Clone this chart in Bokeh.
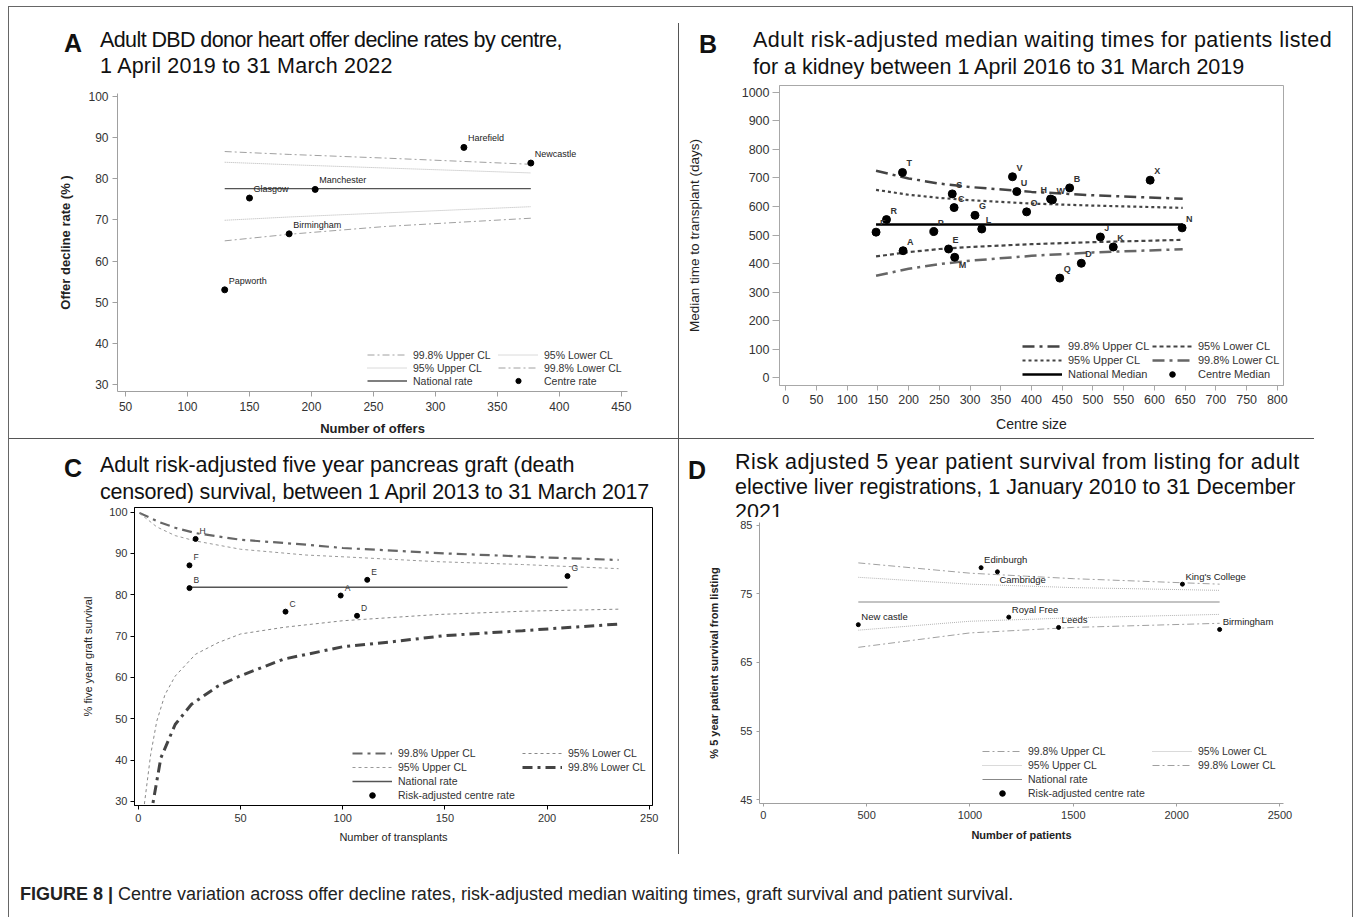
from bokeh.plotting import figure
from bokeh.models import Div, Legend, LegendItem, ColumnDataSource, Range1d, FixedTicker
from bokeh.layouts import row, column
from bokeh.embed import file_html
from bokeh.resources import INLINE
from bokeh.core.properties import value

FONT = "Liberation Sans"

# ---------------- Panel A data ----------------
A_centres = ["Harefield", "Newcastle", "Manchester", "Glasgow", "Birmingham", "Papworth"]
A_offers = [323, 377, 203, 150, 182, 130]
A_decline = [87.6, 83.8, 77.4, 75.3, 66.6, 53.0]
A_national = 77.6
A_national_span = [130, 377]
A_cl_offers = [130, 182, 260, 377]
A_upper998 = [86.6, 85.9, 85.0, 83.5]
A_upper95 = [84.0, 83.4, 82.6, 81.4]
A_lower95 = [69.9, 70.7, 71.7, 73.2]
A_lower998 = [64.9, 66.5, 68.4, 70.4]
A_xticks = [50, 100, 150, 200, 250, 300, 350, 400, 450]
A_yticks = [30, 40, 50, 60, 70, 80, 90, 100]

# ---------------- Panel B data ----------------
B_centres = ["T", "V", "X", "B", "U", "S", "H", "W", "C", "O", "G", "R", "L",
             "N", "F", "P", "J", "K", "A", "E", "M", "D", "Q"]
B_size = [190, 369, 593, 462, 376, 271, 431, 434, 274, 392, 308, 164, 319,
          645, 147, 241, 512, 533, 191, 265, 275, 481, 446]
B_median = [719, 704, 692, 665, 652, 644, 626, 623, 596, 581, 569, 554, 521,
            525, 510, 512, 493, 458, 445, 451, 422, 401, 349]
B_national = 537
B_national_span = [147, 646]
B_cl_size = [147, 200, 250, 300, 400, 500, 646]
B_upper998 = [725, 698, 680, 668, 651, 639, 627]
B_upper95 = [658, 641, 630, 622, 610, 603, 595]
B_lower95 = [425, 440, 451, 458, 468, 475, 483]
B_lower998 = [357, 382, 398, 410, 427, 439, 450]
B_xticks = list(range(0, 801, 50))
B_yticks = list(range(0, 1001, 100))

# ---------------- Panel C data ----------------
C_centres = ["H", "F", "B", "E", "A", "C", "D", "G"]
C_transplants = [28, 25, 25, 112, 99, 72, 107, 210]
C_survival = [93.5, 87.1, 81.6, 83.6, 79.8, 75.9, 74.9, 84.5]
C_national = 81.8
C_national_span = [25, 210]
C_u998_n = [0.5, 10, 18, 28, 50, 82, 100, 150, 200, 235]
C_upper998 = [99.8, 97.6, 96.2, 94.9, 93.3, 92.1, 91.3, 90.0, 89.0, 88.4]
C_u95_n = [0.5, 5, 9, 18, 28, 50, 82, 103, 146, 188, 235]
C_upper95 = [99.7, 98.0, 96.4, 94.3, 93.0, 91.0, 89.6, 89.1, 88.0, 87.3, 86.3]
C_l95_n = [2.5, 3, 6, 9, 13, 18, 28, 39, 50, 71, 100, 146, 188, 235]
C_lower95 = [25.0, 29.6, 41.3, 49.4, 55.8, 60.3, 65.6, 68.4, 70.5, 72.1, 73.7, 75.2, 76.0, 76.5]
C_l998_n = [6.5, 7, 11, 18, 26, 39, 50, 71, 100, 124, 150, 188, 235]
C_lower998 = [26.0, 29.2, 40.5, 48.6, 53.5, 57.9, 60.4, 64.4, 67.4, 68.6, 70.1, 71.3, 72.9]
C_xticks = [0, 50, 100, 150, 200, 250]
C_yticks = [30, 40, 50, 60, 70, 80, 90, 100]

# ---------------- Panel D data ----------------
D_centres = ["Edinburgh", "Cambridge", "King's College", "Royal Free", "New castle", "Leeds", "Birmingham"]
D_patients = [1054, 1133, 2028, 1188, 460, 1429, 2208]
D_survival = [78.8, 78.2, 76.4, 71.6, 70.5, 70.1, 69.8]
D_national = 73.8
D_national_span = [460, 2208]
D_cl_n = [460, 1000, 1500, 2208]
D_upper998 = [79.5, 78.0, 77.2, 76.4]
D_upper95 = [77.4, 76.4, 75.9, 75.5]
D_lower95 = [69.7, 71.0, 71.5, 72.0]
D_lower998 = [67.2, 69.3, 70.1, 70.7]
D_xticks = [0, 500, 1000, 1500, 2000, 2500]
D_yticks = [45, 55, 65, 75, 85]


# ---------------- helpers ----------------
def make_fig(w, h, xr, yr, mbl, mbr, mbt, mbb, outline=None):
    p = figure(width=w, height=h, x_range=Range1d(*xr), y_range=Range1d(*yr),
               output_backend="svg", toolbar_location=None,
               min_border_left=mbl, min_border_right=mbr,
               min_border_top=mbt, min_border_bottom=mbb)
    p.grid.visible = False
    p.outline_line_color = outline
    p.background_fill_color = "white"
    p.border_fill_color = "white"
    return p


def style_axis(ax, ticks, tick_size, line_color, label, label_size, bold,
               tick_out=5, label_standoff=6, major_standoff=4, tick_color="#333", label_color="#222"):
    ax.ticker = FixedTicker(ticks=ticks)
    ax.minor_tick_line_color = None
    ax.axis_line_color = line_color
    ax.major_tick_line_color = line_color
    ax.major_tick_in = 0
    ax.major_tick_out = tick_out
    ax.major_label_text_font = FONT
    ax.major_label_text_font_size = tick_size
    ax.major_label_text_color = tick_color
    ax.major_label_standoff = major_standoff
    ax.axis_label = label
    ax.axis_label_text_font = FONT
    ax.axis_label_text_font_size = label_size
    ax.axis_label_text_font_style = "bold" if bold else "normal"
    ax.axis_label_text_color = label_color
    ax.axis_label_standoff = label_standoff


def add_legend(p, items, loc, size="10.5px", pitch=13):
    leg = Legend(items=items, location=loc, border_line_color=None,
                 background_fill_alpha=0, padding=0, spacing=0, margin=0,
                 label_height=pitch, glyph_height=pitch, glyph_width=40,
                 label_standoff=6, label_text_font=FONT,
                 label_text_font_size=size, label_text_color="#333")
    p.add_layout(leg)


def point_labels(p, xs, ys, names, size, dx, dy, special=None, bold=False, color="#222"):
    special = special or {}
    xo = [special.get(n, (dx, dy))[0] for n in names]
    yo = [special.get(n, (dx, dy))[1] for n in names]
    src = ColumnDataSource(dict(x=xs, y=ys, t=names, xo=xo, yo=yo))
    p.text(x="x", y="y", text="t", source=src, x_offset="xo", y_offset="yo",
           text_font=value(FONT), text_font_size=size, text_baseline="middle",
           text_align="left", text_color=color,
           text_font_style="bold" if bold else "normal")


def header(letter, lines, w, h, letter_left, letter_top, text_left, text_top,
           pitch=26, size=21.5, letter_size=25):
    html = ('<div style="position:relative;width:%dpx;height:%dpx;overflow:hidden;'
            'font-family:\'Liberation Sans\',Arial,sans-serif;color:#111;">' % (w, h))
    html += ('<div style="position:absolute;left:%dpx;top:%dpx;font-size:%dpx;line-height:%dpx;'
             'font-weight:bold;">%s</div>' % (letter_left, letter_top, letter_size, letter_size, letter))
    spans = ['<span style="letter-spacing:%.2fpx;">%s</span>' % (ls, t) for t, ls in lines]
    html += ('<div style="position:absolute;left:%dpx;top:%dpx;font-size:%.1fpx;line-height:%dpx;'
             'white-space:nowrap;">%s</div>' % (text_left, text_top, size, pitch, "<br>".join(spans)))
    html += '</div>'
    return Div(text=html, width=w, height=h, margin=(0, 0, 0, 0))


def hline(w, color="#555"):
    return Div(text="", width=w, height=1, margin=(0, 0, 0, 0),
               styles={"background-color": color})


def vline(h, color="#555"):
    return Div(text="", width=1, height=h, margin=(0, 0, 0, 0),
               styles={"background-color": color})


def spacer(w, h):
    return Div(text="", width=w, height=h, margin=(0, 0, 0, 0))


# ---------------- Panel A ----------------
pA = make_fig(669, 353, (43.5, 455), (28.3, 100.7), 108, 51, 8, 46)
gA = "#a0a0a0"
style_axis(pA.xaxis[0], A_xticks, "12px", gA, "Number of offers", "13px", True,
           tick_out=5, label_standoff=7, major_standoff=5)
style_axis(pA.yaxis[0], A_yticks, "12px", gA, "Offer decline rate (% )", "13px", True,
           tick_out=5, label_standoff=12)
rA_u998 = pA.line(A_cl_offers, A_upper998, line_color="#a0a0a0", line_width=1, line_dash="7 3 2 3")
rA_l95 = pA.line(A_cl_offers, A_lower95, line_color="#b4b4b4", line_width=1, line_dash="1 1")
rA_u95 = pA.line(A_cl_offers, A_upper95, line_color="#b4b4b4", line_width=1, line_dash="1 1")
rA_l998 = pA.line(A_cl_offers, A_lower998, line_color="#a0a0a0", line_width=1, line_dash="7 3 2 3")
rA_nat = pA.line(A_national_span, [A_national, A_national], line_color="#555", line_width=1.4)
rA_pts = pA.scatter(A_offers, A_decline, size=6, color="black")
point_labels(pA, A_offers, A_decline, A_centres, "9px", 4, -9)
add_legend(pA, [LegendItem(label="99.8% Upper CL", renderers=[rA_u998]),
                LegendItem(label="95% Upper CL", renderers=[rA_u95]),
                LegendItem(label="National rate", renderers=[rA_nat])], (250, 4))
add_legend(pA, [LegendItem(label="95% Lower CL", renderers=[rA_l95]),
                LegendItem(label="99.8% Lower CL", renderers=[rA_l998]),
                LegendItem(label="Centre rate", renderers=[rA_pts])], (381, 4))

# ---------------- Panel B ----------------
gB = "#a8a8a8"
pB = make_fig(673, 355, (-10.1, 810), (-27, 1023.5), 100, 69, 2, 53, outline=gB)
style_axis(pB.xaxis[0], B_xticks, "12.5px", gB, "Centre size", "14px", False,
           tick_out=5, label_standoff=9, major_standoff=4)
style_axis(pB.yaxis[0], B_yticks, "12.5px", gB, "Median time to transplant (days)", "13.5px", False,
           tick_out=7, label_standoff=37, major_standoff=3)
rB_u998 = pB.line(B_cl_size, B_upper998, line_color="#444", line_width=2.5, line_dash="12 5 3 5")
rB_l95 = pB.line(B_cl_size, B_lower95, line_color="#444", line_width=2.2, line_dash="4 3")
rB_u95 = pB.line(B_cl_size, B_upper95, line_color="#444", line_width=2.2, line_dash="3 3")
rB_l998 = pB.line(B_cl_size, B_lower998, line_color="#666", line_width=2.5, line_dash="12 5 3 5")
rB_nat = pB.line(B_national_span, [B_national, B_national], line_color="black", line_width=2.5)
rB_pts = pB.scatter(B_size, B_median, size=8, color="black")
point_labels(pB, B_size, B_median, B_centres, "9px", 4, -9,
             special={"H": (-10, -9), "M": (4, 8)}, bold=True, color="#333")
add_legend(pB, [LegendItem(label="99.8% Upper CL", renderers=[rB_u998]),
                LegendItem(label="95% Upper CL", renderers=[rB_u95]),
                LegendItem(label="National Median", renderers=[rB_nat])], (243, 4), size="11px", pitch=14)
add_legend(pB, [LegendItem(label="95% Lower CL", renderers=[rB_l95]),
                LegendItem(label="99.8% Lower CL", renderers=[rB_l998]),
                LegendItem(label="Centre Median", renderers=[rB_pts])], (373, 4), size="11px", pitch=14)

# ---------------- Panel C ----------------
pC = make_fig(669, 351, (-1.9, 251.6), (29.0, 101.1), 125, 26, 4, 49, outline="black")
style_axis(pC.xaxis[0], C_xticks, "11px", "black", "Number of transplants", "11px", False,
           tick_out=4, label_standoff=6, major_standoff=4)
style_axis(pC.yaxis[0], C_yticks, "11px", "black", "% five year graft survival", "11px", False,
           tick_out=4, label_standoff=12, major_standoff=3)
rC_u998 = pC.line(C_u998_n, C_upper998, line_color="#666", line_width=2.2, line_dash="10 5 3 5")
rC_l95 = pC.line(C_l95_n, C_lower95, line_color="#888", line_width=1, line_dash="3 3")
rC_u95 = pC.line(C_u95_n, C_upper95, line_color="#999", line_width=1, line_dash="3 3")
rC_l998 = pC.line(C_l998_n, C_lower998, line_color="#444", line_width=3, line_dash="10 5 3 5")
rC_nat = pC.line(C_national_span, [C_national, C_national], line_color="#555", line_width=1.3)
rC_pts = pC.scatter(C_transplants, C_survival, size=5, color="black")
point_labels(pC, C_transplants, C_survival, C_centres, "8.5px", 4, -8, color="#333")
add_legend(pC, [LegendItem(label="99.8% Upper CL", renderers=[rC_u998]),
                LegendItem(label="95% Upper CL", renderers=[rC_u95]),
                LegendItem(label="National rate", renderers=[rC_nat]),
                LegendItem(label="Risk-adjusted centre rate", renderers=[rC_pts])], (218, 3), pitch=14)
add_legend(pC, [LegendItem(label="95% Lower CL", renderers=[rC_l95]),
                LegendItem(label="99.8% Lower CL", renderers=[rC_l998])], (388, 31), pitch=14)

# ---------------- Panel D ----------------
gD = "#a0a0a0"
pD = make_fig(673, 337, (-18, 2517), (44.46, 85.38), 80, 69, 5, 51)
style_axis(pD.xaxis[0], D_xticks, "11px", gD, "Number of patients", "11px", True,
           tick_out=3, label_standoff=7, major_standoff=4)
style_axis(pD.yaxis[0], D_yticks, "11px", gD, "% 5 year patient survival from listing", "11px", True,
           tick_out=3, label_standoff=17, major_standoff=4)
rD_u998 = pD.line(D_cl_n, D_upper998, line_color="#a0a0a0", line_width=1, line_dash="7 3 2 3")
rD_l95 = pD.line(D_cl_n, D_lower95, line_color="#b4b4b4", line_width=1, line_dash="1 1")
rD_u95 = pD.line(D_cl_n, D_upper95, line_color="#b4b4b4", line_width=1, line_dash="1 1")
rD_l998 = pD.line(D_cl_n, D_lower998, line_color="#a0a0a0", line_width=1, line_dash="7 3 2 3")
rD_nat = pD.line(D_national_span, [D_national, D_national], line_color="#888", line_width=1.2)
rD_pts = pD.scatter(D_patients, D_survival, size=4, color="black")
point_labels(pD, D_patients, D_survival, D_centres, "9.5px", 3, -8,
             special={"Cambridge": (2, 8)}, color="#222")
add_legend(pD, [LegendItem(label="99.8% Upper CL", renderers=[rD_u998]),
                LegendItem(label="95% Upper CL", renderers=[rD_u95]),
                LegendItem(label="National rate", renderers=[rD_nat]),
                LegendItem(label="Risk-adjusted centre rate", renderers=[rD_pts])], (223, 3), pitch=14)
add_legend(pD, [LegendItem(label="95% Lower CL", renderers=[rD_l95]),
                LegendItem(label="99.8% Lower CL", renderers=[rD_l998])], (393, 31), pitch=14)

# ---------------- headers ----------------
hA = header("A", [("Adult DBD donor heart offer decline rates by centre,", -0.6),
                  ("1 April 2019 to 31 March 2022", 0.2)], 669, 78, 55, 24, 91, 20, pitch=26)
hB = header("B", [("Adult risk-adjusted median waiting times for patients listed", 0.45),
                  ("for a kidney between 1 April 2016 to 31 March 2019", 0.0)],
            673, 76, 20, 25, 74, 20, pitch=27)
hC = header("C", [("Adult risk-adjusted five year pancreas graft (death", 0.0),
                  ("censored) survival, between 1 April 2013 to 31 March 2017", -0.2)],
            669, 64, 55, 17, 91, 13, pitch=27)
hD = header("D", [("Risk adjusted 5 year patient survival from listing for adult", 0.45),
                  ("elective liver registrations, 1 January 2010 to 31 December", 0.0),
                  ("2021", 0.0)], 673, 78, 9, 19, 56, 11, pitch=25)

caption = Div(text=('<div style="position:relative;width:1343px;height:63px;'
                    'font-family:\'Liberation Sans\',Arial,sans-serif;font-size:18px;color:#222;">'
                    '<div style="position:absolute;left:11px;top:30px;line-height:20px;white-space:nowrap;">'
                    '<b>FIGURE 8 |</b> Centre variation across offer decline rates, risk-adjusted median '
                    'waiting times, graft survival and patient survival.</div></div>'),
              width=1343, height=63, margin=(0, 0, 0, 0))

top_row = row(column(hA, pA), column(spacer(1, 16), vline(415)), column(hB, pB))
bottom_row = row(column(hC, pC), vline(415), column(hD, pD))
inner = column(hline(1343, "#666"), top_row, row(hline(1305), spacer(38, 1)), bottom_row, caption)
layout = column(spacer(1356, 6),
                row(spacer(8, 911), vline(911, "#666"), inner, vline(911, "#666")))

open("out.html", "w").write(file_html(layout, INLINE))
